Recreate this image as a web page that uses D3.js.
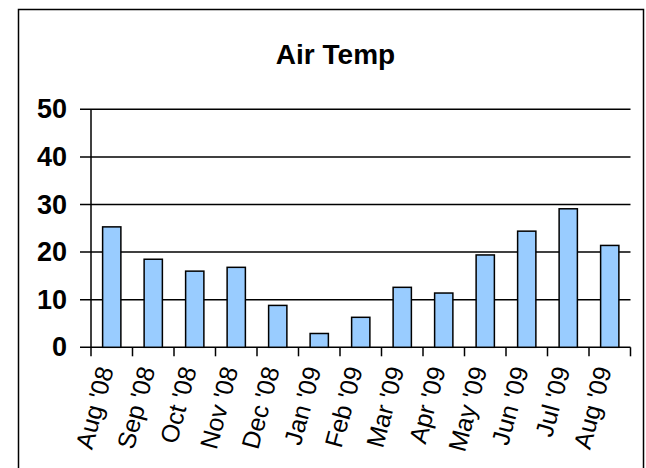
<!DOCTYPE html>
<html>
<head>
<meta charset="utf-8">
<script src="https://cdn.jsdelivr.net/npm/d3@7"></script>
<style>
  html, body { margin: 0; padding: 0; background: #fff; }
  svg { display: block; }
</style>
</head>
<body>
<svg id="chart" width="646" height="468"></svg>
<script>
const categories = ["Aug '08","Sep '08","Oct '08","Nov '08","Dec '08","Jan '09","Feb '09","Mar '09","Apr '09","May '09","Jun '09","Jul '09","Aug '09"];
const airTemp = [25.3, 18.5, 16.0, 16.8, 8.8, 2.9, 6.3, 12.6, 11.4, 19.4, 24.4, 29.1, 21.4];
const yTicks = [0, 10, 20, 30, 40, 50];
const chartTitle = "Air Temp";

(function () {
const svg = d3.select("#chart");

// chart border
svg.append("rect")
  .attr("x", 18.5).attr("y", 9.5)
  .attr("width", 625).attr("height", 470)
  .attr("fill", "#fff").attr("stroke", "#000").attr("stroke-width", 1.5);

const pLeft = 91, pRight = 630.5, pTop = 109.3, pBottom = 347.3;

const x = d3.scaleBand().domain(categories).range([pLeft, pRight])
  .paddingInner(0.56).paddingOuter(0.28);
const y = d3.scaleLinear().domain([0, 50]).range([pBottom, pTop]);

// title
svg.append("text")
  .attr("x", 335.5).attr("y", 64)
  .attr("text-anchor", "middle")
  .attr("font-family", "Liberation Sans, Arial, sans-serif")
  .attr("font-weight", "bold").attr("font-size", 28)
  .text(chartTitle);

// y axis labels
const yAxis = d3.axisLeft(y).tickValues(yTicks).tickSize(0).tickPadding(24);
const gy = svg.append("g").attr("transform", `translate(${pLeft},0)`).call(yAxis);
gy.select(".domain").remove();
gy.selectAll("text")
  .attr("font-family", "Liberation Sans, Arial, sans-serif")
  .attr("font-weight", "bold").attr("font-size", 27)
  .attr("fill", "#000");

// gridlines
svg.append("g").selectAll("line").data(yTicks).join("line")
  .attr("x1", pLeft - 11).attr("x2", pRight)
  .attr("y1", d => y(d)).attr("y2", d => y(d))
  .attr("stroke", "#000").attr("stroke-width", 1.5);

// bars
svg.append("g").selectAll("rect").data(airTemp).join("rect")
  .attr("x", (d, i) => x(categories[i]))
  .attr("y", d => y(d))
  .attr("width", x.bandwidth())
  .attr("height", d => y(0) - y(d))
  .attr("fill", "#99CCFF")
  .attr("stroke", "#000").attr("stroke-width", 1.5);

// y axis line
svg.append("line")
  .attr("x1", pLeft).attr("x2", pLeft)
  .attr("y1", y(50)).attr("y2", y(0))
  .attr("stroke", "#000").attr("stroke-width", 1.5);

// x ticks at category boundaries
const step = x.step();
const bounds = d3.range(categories.length + 1).map(i => pLeft + i * step);
svg.append("g").selectAll("line").data(bounds).join("line")
  .attr("x1", d => d).attr("x2", d => d)
  .attr("y1", y(0)).attr("y2", y(0) + 9)
  .attr("stroke", "#000").attr("stroke-width", 1.5);

// x labels
svg.append("g").selectAll("text").data(categories).join("text")
  .attr("transform", d => `translate(${x(d) + x.bandwidth() / 2 + 2},${y(0) + 22}) rotate(-75)`)
  .attr("text-anchor", "end")
  .attr("font-family", "Liberation Sans, Arial, sans-serif")
  .attr("font-size", 25)
  .attr("fill", "#000")
  .text(d => d);
})();
</script>
</body>
</html>
